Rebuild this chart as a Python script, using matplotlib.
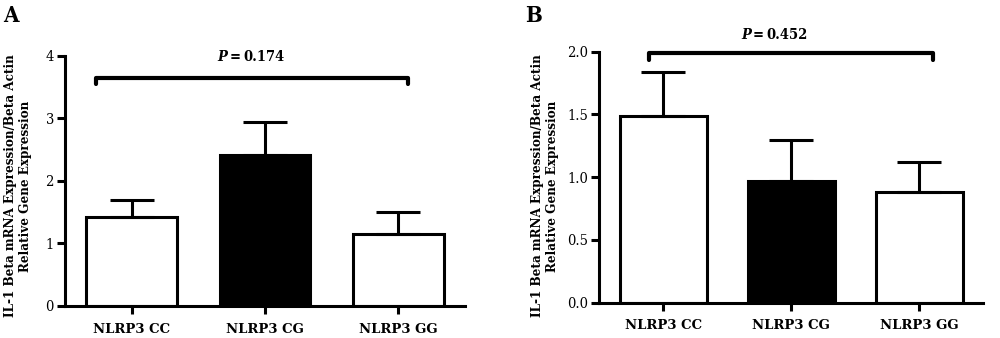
import matplotlib
matplotlib.use("Agg")
import matplotlib.pyplot as plt

categories = ["NLRP3 CC", "NLRP3 CG", "NLRP3 GG"]
means_a = [1.43, 2.42, 1.15]
sem_a = [0.26, 0.53, 0.35]
means_b = [1.485, 0.97, 0.88]
sem_b = [0.355, 0.33, 0.24]
colors = ["white", "black", "white"]
p_a = "0.174"
p_b = "0.452"
ylabel = "IL-1 Beta mRNA Expression/Beta Actin\nRelative Gene Expression"

SERIF = ["DejaVu Serif", "Liberation Serif"]
plt.rcParams["font.family"] = SERIF
plt.rcParams["font.stretch"] = "condensed"

fig = plt.figure(figsize=(10, 3.38), dpi=100)
ax_a = fig.add_axes([0.065, 0.0947, 0.40, 0.740])
ax_b = fig.add_axes([0.5993, 0.1044, 0.3837, 0.7426])

LW = 2.2


def panel(ax, means, sems, ylim, yticks, yticklabels, bracket, ptext, pval):
    x = list(range(len(categories)))
    ax.bar(x, means, width=0.68, color=colors, edgecolor="black", linewidth=LW, zorder=2)
    ax.errorbar(x, means, yerr=[[0] * len(sems), sems], fmt="none", ecolor="black",
                elinewidth=LW, capsize=16, capthick=LW, zorder=3)
    ax.set_xlim(-0.5, 2.5)
    ax.set_ylim(*ylim)
    ax.set_yticks(yticks)
    ax.set_yticklabels(yticklabels, fontsize=10.5)
    ax.set_xticks(x)
    ax.set_xticklabels(categories, fontsize=9.5, fontweight="bold", fontstretch="normal")
    for s in ["top", "right"]:
        ax.spines[s].set_visible(False)
    for s in ["left", "bottom"]:
        ax.spines[s].set_linewidth(LW)
    ax.tick_params(axis="both", width=LW, length=6, direction="out")
    ax.tick_params(axis="x", pad=6)
    ax.tick_params(axis="y", pad=2)
    # bracket
    x0, x1, yb, ye = bracket
    ax.plot([x0, x0, x1, x1], [ye, yb, yb, ye], color="black", lw=LW + 0.8,
            solid_capstyle="round", solid_joinstyle="round", clip_on=False)
    tx, ty = ptext
    t1 = ax.text(tx, ty, "P", fontsize=10.5, fontweight="bold", fontstyle="italic",
                 ha="right", va="center")
    t2 = ax.annotate("=", xy=(1, 0), xycoords=t1, xytext=(2, 0),
                     textcoords="offset pixels", fontsize=10.5, fontweight="bold",
                     ha="left", va="bottom")
    ax.annotate(pval, xy=(1, 0), xycoords=t2, xytext=(3, 0),
                textcoords="offset pixels", fontsize=10.5, fontweight="bold",
                ha="left", va="bottom")


panel(ax_a, means_a, sem_a, (0, 4), [0, 1, 2, 3, 4], ["0", "1", "2", "3", "4"],
      (-0.27, 2.07, 3.65, 3.55), (0.72, 3.98), p_a)
panel(ax_b, means_b, sem_b, (0, 2.0), [0, 0.5, 1.0, 1.5, 2.0],
      ["0.0", "0.5", "1.0", "1.5", "2.0"],
      (-0.11, 2.11, 1.99, 1.93), (0.685, 2.13), p_b)

fig.text(0.018, 0.45, ylabel, rotation=90, ha="center", va="center",
         fontsize=9.6, fontweight="bold", linespacing=1.25)
fig.text(0.545, 0.45, ylabel, rotation=90, ha="center", va="center",
         fontsize=9.6, fontweight="bold", linespacing=1.25)

fig.text(0.003, 0.985, "A", fontsize=16, fontweight="bold", ha="left", va="top")
fig.text(0.525, 0.985, "B", fontsize=16, fontweight="bold", ha="left", va="top")

fig.savefig("out.png", dpi=100)
